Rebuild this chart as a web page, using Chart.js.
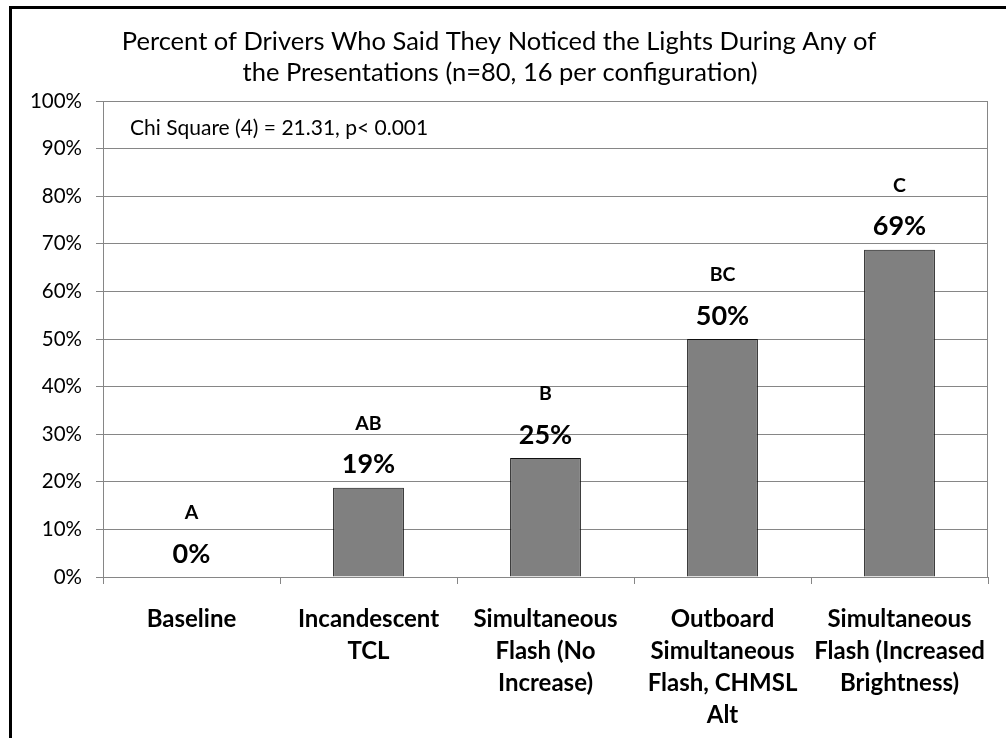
<!DOCTYPE html>
<html lang="en">
<head>
  <meta charset="UTF-8" />
  <title>Percent of Drivers Who Noticed the Lights</title>
  <script src="https://cdn.jsdelivr.net/npm/chart.js"></script>
  <style>
    html, body {
      margin: 0;
      padding: 0;
      background: #fff;
      overflow: hidden;
    }
    #frame {
      position: absolute;
      left: 9px;
      top: 6px;
      width: 1010px;
      height: 760px;
      border: 3px solid #000;
      pointer-events: none;
    }
    #chart-container {
      position: absolute;
      left: 0;
      top: 0;
      width: 1006px;
      height: 738px;
    }
  </style>
</head>
<body>
  <div id="chart-container">
    <canvas id="barChart"></canvas>
  </div>
  <div id="frame"></div>

  <script>
    const categories = [
      ["Baseline"],
      ["Incandescent", "TCL"],
      ["Simultaneous", "Flash (No", "Increase)"],
      ["Outboard", "Simultaneous", "Flash, CHMSL", "Alt"],
      ["Simultaneous", "Flash (Increased", "Brightness)"]
    ];
    const percentNoticed = [0, 18.75, 25, 50, 68.75];
    const valueLabels = ["0%", "19%", "25%", "50%", "69%"];
    const groupLetters = ["A", "AB", "B", "BC", "C"];
    const titleLines = [
      "Percent of Drivers Who Said They Noticed the Lights During Any of",
      "the Presentations (n=80, 16 per configuration)"
    ];
    const statNote = "Chi Square (4) = 21.31, p< 0.001";

    const FONT = "Lato, 'Noto Sans', sans-serif";
    const GRID = "#868686";

    // title, stats note, plot frame and bar labels
    const annotations = {
      id: "annotations",
      afterDatasetsDraw(chart) {
        const ctx = chart.ctx;
        const area = chart.chartArea;
        ctx.save();

        ctx.strokeStyle = GRID;
        ctx.lineWidth = 1;
        ctx.strokeRect(area.left + 0.5, area.top + 0.5, area.right - area.left - 1, area.bottom - area.top);

        ctx.fillStyle = "#000";
        ctx.textAlign = "center";
        ctx.textBaseline = "middle";
        ctx.font = "25.5px " + FONT;
        ctx.fillText(titleLines[0], 499, 42);
        ctx.fillText(titleLines[1], 500, 73);

        ctx.textAlign = "left";
        ctx.font = "21px " + FONT;
        ctx.fillText(statNote, 130, 128);

        ctx.textAlign = "center";
        const bars = chart.getDatasetMeta(0).data;
        bars.forEach((bar, i) => {
          ctx.font = "bold 27px " + FONT;
          ctx.fillText(valueLabels[i], bar.x, bar.y - 23);
          ctx.font = "bold 19.5px " + FONT;
          ctx.fillText(groupLetters[i], bar.x, bar.y - 64);
        });
        ctx.restore();
      }
    };

    const ctx = document.getElementById("barChart").getContext("2d");
    const barChart = new Chart(ctx, {
      type: "bar",
      data: {
        labels: categories,
        datasets: [{
          data: percentNoticed,
          backgroundColor: "#808080",
          borderColor: "#111",
          borderWidth: percentNoticed.map(v => v > 0 ? 1 : 0),
          borderSkipped: "bottom",
          categoryPercentage: 1,
          barPercentage: 0.4
        }]
      },
      options: {
        responsive: true,
        maintainAspectRatio: false,
        animation: false,
        layout: {
          padding: { top: 101, right: 18, bottom: 0, left: 0 }
        },
        plugins: {
          legend: { display: false },
          title: { display: false },
          tooltip: { enabled: false }
        },
        scales: {
          x: {
            afterFit(scale) { scale.height = 161; },
            grid: {
              offset: true,
              drawOnChartArea: false,
              drawTicks: true,
              tickLength: 7,
              color: GRID
            },
            border: { color: GRID },
            ticks: {
              color: "#000",
              padding: 19,
              maxRotation: 0,
              autoSkip: false,
              font: { family: FONT, size: 24, weight: "bold", lineHeight: "32px" }
            }
          },
          y: {
            min: 0,
            max: 100,
            afterFit(scale) { scale.width = 103; },
            grid: {
              color: GRID,
              tickLength: 7
            },
            border: { color: GRID },
            ticks: {
              stepSize: 10,
              color: "#000",
              padding: 14,
              font: { family: FONT, size: 20.5 },
              callback: v => v + "%"
            }
          }
        }
      },
      plugins: [annotations]
    });
  </script>
</body>
</html>
